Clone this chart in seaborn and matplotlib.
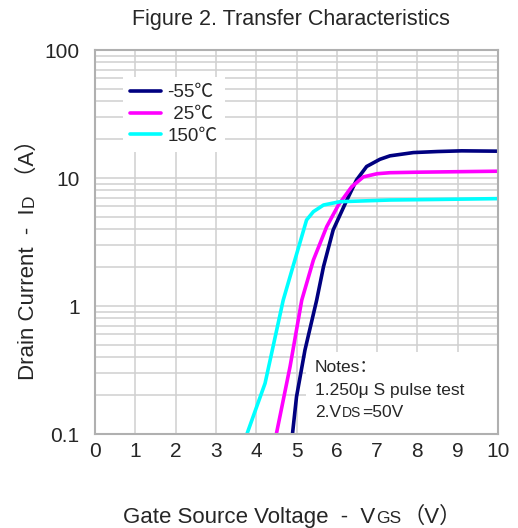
import numpy as np
import pandas as pd
import seaborn as sns
import matplotlib.pyplot as plt
from matplotlib.patches import Rectangle
from matplotlib.ticker import LogLocator, NullFormatter

# values
temps = ['-55℃', ' 25℃', '150℃']

vgs_m55 = [4.9, 5.0, 5.21, 5.5, 5.67, 5.91, 6.25, 6.49, 6.74, 7.07, 7.32, 7.9, 8.5, 9.1, 10.0]
id_m55 = [0.1, 0.195, 0.453, 1.11, 2.03, 3.93, 6.73, 9.65, 12.3, 14.0, 14.9, 15.8, 16.1, 16.3, 16.2]

vgs_25 = [4.5, 4.84, 5.13, 5.42, 5.75, 6.04, 6.37, 6.66, 7.0, 7.32, 8.0, 9.0, 10.0]
id_25 = [0.1, 0.336, 1.11, 2.29, 4.17, 6.15, 8.55, 10.2, 10.8, 11.0, 11.1, 11.2, 11.3]

vgs_150 = [3.77, 4.22, 4.67, 4.96, 5.25, 5.42, 5.67, 6.08, 7.32, 8.5, 10.0]
id_150 = [0.1, 0.249, 1.11, 2.29, 4.70, 5.46, 6.15, 6.53, 6.73, 6.8, 6.9]

palette = {'-55℃': '#000080', ' 25℃': '#ff00ff', '150℃': '#00ffff'}

df = pd.concat([
    pd.DataFrame({'vgs': vgs_m55, 'id': id_m55, 'temp': temps[0]}),
    pd.DataFrame({'vgs': vgs_25, 'id': id_25, 'temp': temps[1]}),
    pd.DataFrame({'vgs': vgs_150, 'id': id_150, 'temp': temps[2]}),
], ignore_index=True)

sns.set_style('white')
LATIN = ['Liberation Sans', 'Noto Sans CJK SC']
plt.rcParams['font.family'] = LATIN

W, H = 518, 528
fig = plt.figure(figsize=(W / 100, H / 100), dpi=100)
ax = fig.add_axes([95 / W, 1 - 434 / H, 403 / W, 384 / H])

sns.lineplot(data=df, x='vgs', y='id', hue='temp', hue_order=temps, palette=palette,
             estimator=None, sort=False, linewidth=2.6, ax=ax)

ax.set_yscale('log')
ax.set_xlim(0, 10)
ax.set_ylim(0.1, 100)
ax.set_xticks(range(11))
ax.set_yticks([0.1, 1, 10, 100])
ax.set_yticklabels(['0.1', '1', '10', '100'])
ax.yaxis.set_minor_locator(LogLocator(base=10, subs=np.arange(2, 10)))
ax.yaxis.set_minor_formatter(NullFormatter())
ax.grid(True, which='both', color='#d0d0d0', lw=1.1)
ax.set_axisbelow(True)
ax.tick_params(axis='x', direction='in', length=5, color='#bbbbbb', labelsize=15, pad=6)
ax.tick_params(axis='y', which='both', length=0, labelsize=15, pad=11)
for s in ax.spines.values():
    s.set_color('#b0b0b0')
    s.set_linewidth(1.5)
ax.set_xlabel('')
ax.set_ylabel('')

# white area behind the notes
ax.add_patch(Rectangle((0.523, 0), 0.477, 0.2135, transform=ax.transAxes,
                       facecolor='white', edgecolor='none', zorder=1))

leg = ax.legend(loc='upper left', bbox_to_anchor=(0.045, 0.955), frameon=True,
                facecolor='white', edgecolor='none', framealpha=1, fancybox=False,
                fontsize=13.5, handlelength=1.65, handletextpad=0.35,
                labelspacing=0.25, borderpad=0.4, title=None)
for h in leg.get_lines():
    h.set_linewidth(2.6)

fig.text(291 / W, 1 - 19 / H, 'Figure 2. Transfer Characteristics',
         ha='center', va='center', fontsize=15.5)

r = fig.canvas.get_renderer()


def text_w(s, fs, fam):
    tmp = fig.text(0, 0, s, fontsize=fs, family=fam)
    w = tmp.get_window_extent(r).width
    tmp.remove()
    return w


def mixed(pieces, a, b, vertical=False, center=True):
    # pieces of text with different sizes, laid out one after another (pixel coords, y from top)
    if vertical:
        # rotated text is offset by the first glyph's side bearing (big for the
        # full-width bracket), a leading space keeps it on the same baseline
        pieces = [((' ' + s) if s.startswith('（') else s, fs, fam) for s, fs, fam in pieces]
    widths = [text_w(s, fs, fam) for s, fs, fam in pieces]
    total = sum(widths)
    pos = a - total / 2 if center else a
    for (s, fs, fam), w in zip(pieces, widths):
        if vertical:
            fig.text(b / W, 1 - (2 * a - pos) / H, s, fontsize=fs, family=fam,
                     rotation=90, rotation_mode='anchor', ha='left', va='baseline')
        else:
            fig.text(pos / W, 1 - b / H, s, fontsize=fs, family=fam, ha='left', va='baseline')
        pos += w + 1


mixed([('Gate Source Voltage  -  V', 16, LATIN), ('GS', 12.5, LATIN), ('（V）', 16, LATIN)], 291, 523)
mixed([('Drain Current  -  I', 16, LATIN), ('D', 12.5, LATIN), ('（A）', 16, LATIN)], 255, 34, vertical=True)

fig.text(315 / W, 1 - 372 / H, 'Notes：', fontsize=12.5, ha='left', va='baseline')
fig.text(315 / W, 1 - 395 / H, '1.250μ S pulse test', fontsize=12.5, ha='left', va='baseline')
mixed([('2.V', 12.5, LATIN), ('DS', 10, LATIN), ('=50V', 12.5, LATIN)], 315, 417, center=False)

fig.savefig('out.png', dpi=100)
